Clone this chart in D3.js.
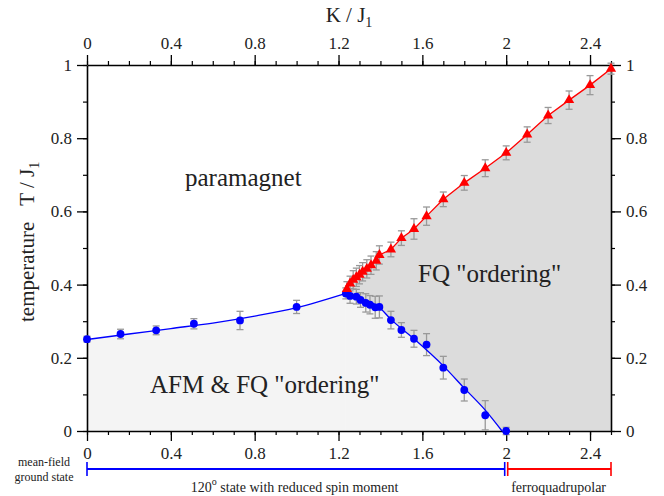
<!DOCTYPE html>
<html>
<head>
<meta charset="utf-8">
<script src="https://cdn.jsdelivr.net/npm/d3@7"></script>
<style>
  body { margin: 0; background: #fff; }
  svg { display: block; }
  text { font-family: "Liberation Serif", "DejaVu Serif", serif; fill: #222; }
</style>
</head>
<body>
<svg id="chart" width="664" height="496"></svg>
<script>
// ---- data -------------------------------------------------------------
// lower transition (AFM order), blue circles: K/J1, T/J1, error
const afmK   = [0, 0.16, 0.33, 0.51, 0.73, 1.0, 1.235, 1.255, 1.285, 1.305, 1.33, 1.35, 1.375, 1.395, 1.45, 1.50, 1.56, 1.62, 1.70, 1.80, 1.90, 2.0];
const afmT   = [0.251, 0.265, 0.275, 0.293, 0.302, 0.339, 0.376, 0.369, 0.367, 0.358, 0.350, 0.345, 0.338, 0.339, 0.303, 0.276, 0.252, 0.236, 0.173, 0.112, 0.043, 0.0];
const afmErr = [0.008, 0.013, 0.012, 0.014, 0.025, 0.018, 0.015, 0.02, 0.02, 0.02, 0.025, 0.025, 0.03, 0.03, 0.024, 0.02, 0.023, 0.03, 0.031, 0.03, 0.04, 0.01];

// upper transition (FQ order), red triangles
const fqK   = [1.24, 1.255, 1.27, 1.285, 1.30, 1.315, 1.335, 1.355, 1.38, 1.395, 1.45, 1.50, 1.56, 1.62, 1.70, 1.80, 1.90, 2.0, 2.1, 2.2, 2.3, 2.4, 2.5];
const fqT   = [0.388, 0.403, 0.413, 0.420, 0.427, 0.435, 0.443, 0.453, 0.465, 0.481, 0.496, 0.527, 0.552, 0.587, 0.633, 0.678, 0.718, 0.760, 0.810, 0.862, 0.904, 0.945, 0.990];
const fqErr = [0.02, 0.02, 0.025, 0.025, 0.025, 0.025, 0.025, 0.025, 0.025, 0.025, 0.02, 0.02, 0.028, 0.025, 0.02, 0.02, 0.023, 0.019, 0.021, 0.022, 0.025, 0.026, 0.015];

// guide curves for the AFM phase boundary (left and right branches)
const leftLineK  = [0, 0.2, 0.4, 0.6, 0.8, 1.0, 1.235];
const leftLineT  = [0.250, 0.265, 0.280, 0.295, 0.314, 0.337, 0.376];
const rightLineK = [1.235, 1.30, 1.39, 1.45, 1.56, 1.70, 1.80, 1.90, 1.98];
const rightLineT = [0.376, 0.362, 0.340, 0.305, 0.252, 0.178, 0.117, 0.057, 0.0];

// axis ticks
const xMajor = [0, 0.4, 0.8, 1.2, 1.6, 2.0, 2.4];
const xMinor = d3.range(0, 26).map(i => i / 10);
const yMajor = [0, 0.2, 0.4, 0.6, 0.8, 1.0];
const yMinor = d3.range(0, 11).map(i => i / 10);

// ground-state phase bar
const groundStates = [
  { from: 0, to: 2.0, color: "#0000ff", label: "state with reduced spin moment", sup: "o", pre: "120" },
  { from: 2.0, to: 2.5, color: "#ff0000", label: "ferroquadrupolar" }
];

// ---- layout -----------------------------------------------------------
const SERIF = '"Liberation Serif", "DejaVu Serif", serif';
const svg = d3.select("#chart");
const x = d3.scaleLinear().domain([0, 2.5]).range([87, 611]);
const y = d3.scaleLinear().domain([0, 1]).range([431, 65]);
const zip = (a, b) => a.map((v, i) => [v, b[i]]);
const fmt = d => String(+d.toFixed(1));

const leftLine = zip(leftLineK, leftLineT);
const rightLine = zip(rightLineK, rightLineT);
const fqPts = zip(fqK, fqT);

const smooth = d3.line().x(d => x(d[0])).y(d => y(d[1])).curve(d3.curveMonotoneX);
const straight = d3.line().x(d => x(d[0])).y(d => y(d[1]));

// ---- phase regions ----------------------------------------------------
// FQ-only region: under the red line, above the right AFM branch
const fqRegion = [[leftLineK[leftLineK.length - 1], leftLineT[leftLineT.length - 1]], ...fqPts,
  [2.5, 0], [rightLineK[rightLineK.length - 1], 0]];
svg.append("path").attr("d", straight(fqRegion) + "Z").attr("fill", "#dcdcdc");

// AFM & FQ region: under both AFM branches, drawn as two pieces
svg.append("path").attr("d", smooth(leftLine) + "L" + x(1.235) + "," + y(0) + "L" + x(0) + "," + y(0) + "Z")
  .attr("fill", "#f4f4f4");
svg.append("path").attr("d", smooth(rightLine) + "L" + x(rightLineK[0]) + "," + y(0) + "Z")
  .attr("fill", "#f4f4f4");

// ---- axes -------------------------------------------------------------
function styleAxis(g) {
  g.attr("font-family", null);
  g.selectAll("path.domain").attr("stroke", "#000").attr("stroke-width", 1.6);
  g.selectAll(".tick line").attr("stroke", "#000").attr("stroke-width", 1.3);
  g.selectAll(".tick text").style("font-family", SERIF).style("font-size", "17px").style("fill", "#222");
}
function minor(axis, tr) {
  const g = svg.append("g").attr("transform", tr).call(axis.tickSize(4).tickFormat(""));
  g.select("path.domain").remove();
  g.selectAll(".tick line").attr("stroke", "#000").attr("stroke-width", 1.2);
}
minor(d3.axisTop(x).tickValues(xMinor), `translate(0,${y(1)})`);
minor(d3.axisBottom(x).tickValues(xMinor), `translate(0,${y(0)})`);
minor(d3.axisLeft(y).tickValues(yMinor), `translate(${x(0)},0)`);
minor(d3.axisRight(y).tickValues(yMinor), `translate(${x(2.5)},0)`);

svg.append("g").attr("transform", `translate(0,${y(1)})`)
  .call(d3.axisTop(x).tickValues(xMajor).tickSize(10).tickSizeOuter(0).tickPadding(6).tickFormat(fmt)).call(styleAxis);
svg.append("g").attr("transform", `translate(0,${y(0)})`)
  .call(d3.axisBottom(x).tickValues(xMajor).tickSize(10).tickSizeOuter(0).tickPadding(6).tickFormat(fmt)).call(styleAxis);
svg.append("g").attr("transform", `translate(${x(0)},0)`)
  .call(d3.axisLeft(y).tickValues(yMajor).tickSize(10).tickSizeOuter(0).tickPadding(5).tickFormat(fmt)).call(styleAxis);
svg.append("g").attr("transform", `translate(${x(2.5)},0)`)
  .call(d3.axisRight(y).tickValues(yMajor).tickSize(10).tickSizeOuter(0).tickPadding(5).tickFormat(fmt)).call(styleAxis);

// ---- error bars -------------------------------------------------------
function errorBars(K, T, E) {
  const g = svg.append("g").attr("stroke", "#999").attr("stroke-width", 1.3).attr("fill", "none");
  K.forEach((k, i) => {
    const cx = x(k), y0 = y(T[i] - E[i]), y1 = y(T[i] + E[i]);
    g.append("line").attr("x1", cx).attr("x2", cx).attr("y1", y0).attr("y2", y1);
    g.append("line").attr("x1", cx - 3.5).attr("x2", cx + 3.5).attr("y1", y0).attr("y2", y0);
    g.append("line").attr("x1", cx - 3.5).attr("x2", cx + 3.5).attr("y1", y1).attr("y2", y1);
  });
}
errorBars(afmK, afmT, afmErr);
errorBars(fqK, fqT, fqErr);

// ---- boundary lines ---------------------------------------------------
svg.append("path").attr("d", smooth(leftLine)).attr("fill", "none").attr("stroke", "#0000ff").attr("stroke-width", 1.3);
svg.append("path").attr("d", smooth(rightLine)).attr("fill", "none").attr("stroke", "#0000ff").attr("stroke-width", 1.3);
svg.append("path").attr("d", straight([[leftLineK[leftLineK.length - 1], leftLineT[leftLineT.length - 1]], ...fqPts]))
  .attr("fill", "none").attr("stroke", "#ff0000").attr("stroke-width", 1.3);

// ---- markers ----------------------------------------------------------
svg.append("g").selectAll("circle").data(zip(afmK, afmT)).join("circle")
  .attr("cx", d => x(d[0])).attr("cy", d => y(d[1])).attr("r", 3.9).attr("fill", "#0000ff");
const tri = d3.symbol().type(d3.symbolTriangle).size(46);
svg.append("g").selectAll("path").data(fqPts).join("path")
  .attr("d", tri).attr("transform", d => `translate(${x(d[0])},${y(d[1])})`).attr("fill", "#ff0000");

// ---- titles -----------------------------------------------------------
const kt = svg.append("text").attr("x", 349).attr("y", 22).attr("text-anchor", "middle").attr("font-size", 21);
kt.append("tspan").text("K / J");
kt.append("tspan").attr("font-size", 14).attr("dy", 5).text("1");

const tt = svg.append("text").attr("transform", "translate(34,322) rotate(-90)").attr("font-size", 21);
tt.append("tspan").text("temperature");
tt.append("tspan").attr("dx", 16).text("T / J");
tt.append("tspan").attr("font-size", 14).attr("dy", 5).text("1");

// region labels
svg.append("text").attr("x", 185).attr("y", 186).attr("font-size", 25).text("paramagnet");
svg.append("text").attr("x", 418).attr("y", 282).attr("font-size", 25).text("FQ \"ordering\"");
svg.append("text").attr("x", 150).attr("y", 393).attr("font-size", 25).text("AFM & FQ \"ordering\"");

// ---- ground-state bar -------------------------------------------------
const barY = 469;
svg.append("text").attr("x", 44).attr("y", 466).attr("text-anchor", "middle").attr("font-size", 12).text("mean-field");
svg.append("text").attr("x", 44).attr("y", 481).attr("text-anchor", "middle").attr("font-size", 12).text("ground state");

groundStates.forEach((s, i) => {
  const x0 = x(s.from) + (i ? 1.5 : 0), x1 = x(s.to) - (i ? 0 : 1.5);
  const g = svg.append("g").attr("stroke", s.color);
  g.append("line").attr("x1", x0).attr("x2", x1).attr("y1", barY).attr("y2", barY).attr("stroke-width", 2);
  g.append("line").attr("x1", x0).attr("x2", x0).attr("y1", barY - 7).attr("y2", barY + 7).attr("stroke-width", 1.6);
  g.append("line").attr("x1", x1).attr("x2", x1).attr("y1", barY - 7).attr("y2", barY + 7).attr("stroke-width", 1.6);
  const t = svg.append("text").attr("x", (x(s.from) + x(s.to)) / 2 + (i ? 0 : -2)).attr("y", 492)
    .attr("text-anchor", "middle").attr("font-size", 14);
  if (s.pre) {
    t.append("tspan").text(s.pre);
    t.append("tspan").attr("font-size", 10).attr("dy", -7).text(s.sup);
    t.append("tspan").attr("dy", 7).text(" " + s.label);
  } else {
    t.text(s.label);
  }
});
</script>
</body>
</html>
